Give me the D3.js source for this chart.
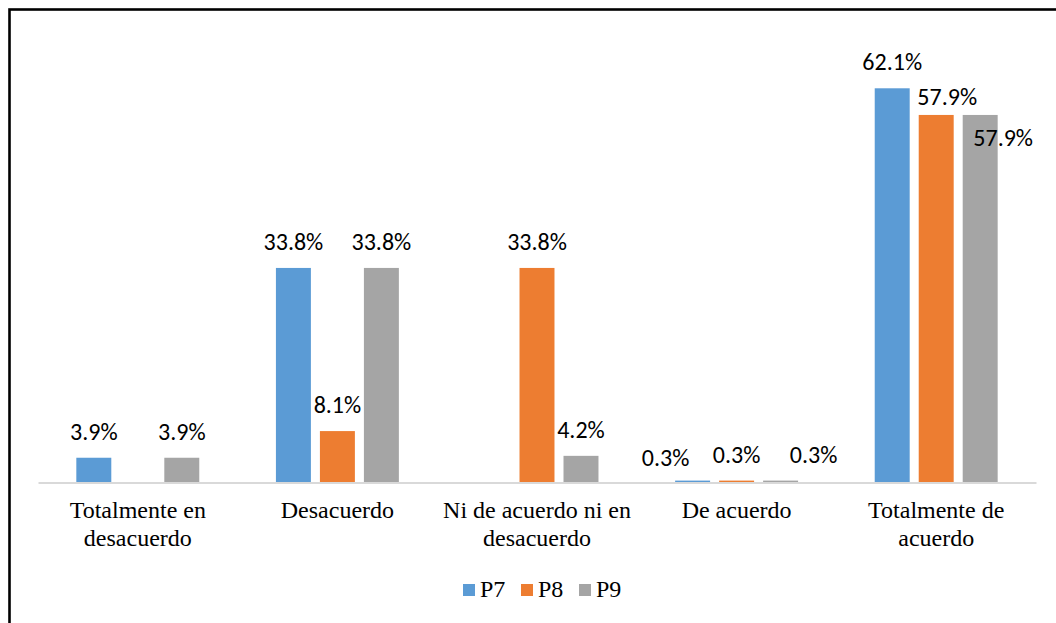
<!DOCTYPE html>
<html>
<head>
<meta charset="utf-8">
<script src="https://cdn.jsdelivr.net/npm/d3@7"></script>
<style>
  body { margin: 0; background: #fff; }
  svg { display: block; }
</style>
</head>
<body>
<div id="grafico"></div>
<script>
// Datos del gráfico
const categorias = ["Totalmente en desacuerdo", "Desacuerdo", "Ni de acuerdo ni en desacuerdo", "De acuerdo", "Totalmente de acuerdo"];
const lineasCategorias = [["Totalmente en", "desacuerdo"], ["Desacuerdo"], ["Ni de acuerdo ni en", "desacuerdo"], ["De acuerdo"], ["Totalmente de", "acuerdo"]];
const series = ["P7", "P8", "P9"];
const valoresP7 = [3.9, 33.8, 0, 0.3, 62.1];
const valoresP8 = [0, 8.1, 33.8, 0.3, 57.9];
const valoresP9 = [3.9, 33.8, 4.2, 0.3, 57.9];
const colores = ["#5B9BD5", "#ED7D31", "#A5A5A5"];

// Ajustes manuales de algunas etiquetas (como en el original)
const ajustesEtiquetas = {
    "3-0": {dx: -27, dy: 3}, "3-2": {dx: 33, dy: 0},
    "4-1": {dx: 11, dy: 8}, "4-2": {dx: 23, dy: 49}
};

const fuenteSerif = "Liberation Serif, Times New Roman, serif";
const fuenteEtiquetas = "Carlito, Calibri, Lato, sans-serif";

const ancho = 1056, alto = 623;
const margen = {izq: 38, der: 1036, base: 482.5};

const svg = d3.select("#grafico").append("svg")
    .attr("width", ancho)
    .attr("height", alto);

// Marco
svg.append("rect")
    .attr("x", 9.5).attr("y", 9.5)
    .attr("width", ancho + 20).attr("height", alto + 20)
    .attr("fill", "none")
    .attr("stroke", "#000")
    .attr("stroke-width", 2.6);

const valores = [valoresP7, valoresP8, valoresP9];
const datos = categorias.map((c, i) => ({
    categoria: c,
    barras: series.map((s, j) => ({serie: s, j, i, valor: valores[j][i]}))
}));

const x0 = d3.scaleBand()
    .domain(categorias)
    .range([margen.izq, margen.der])
    .paddingInner(0.384)
    .paddingOuter(0.192);

const x1 = d3.scaleBand()
    .domain(series)
    .range([0, x0.bandwidth()])
    .paddingInner(0.205);

const y = d3.scaleLinear()
    .domain([0, 70])
    .range([margen.base, margen.base - 70 * 6.348]);

// Barras
const grupos = svg.append("g")
    .selectAll("g")
    .data(datos)
    .join("g")
    .attr("transform", d => `translate(${x0(d.categoria)},0)`);

grupos.selectAll("rect")
    .data(d => d.barras.filter(b => b.valor > 0))
    .join("rect")
    .attr("x", d => x1(d.serie))
    .attr("y", d => y(d.valor))
    .attr("width", x1.bandwidth())
    .attr("height", d => y(0) - y(d.valor))
    .attr("fill", d => colores[d.j]);

// Eje X
const eje = svg.append("g")
    .attr("transform", `translate(0,${margen.base})`)
    .call(d3.axisBottom(x0).tickSize(0).tickSizeOuter(0));

eje.attr("font-family", null).attr("font-size", null);

eje.select(".domain")
    .attr("stroke", "#d9d9d9")
    .attr("stroke-width", 2);

eje.selectAll(".tick text")
    .style("font-family", fuenteSerif)
    .style("font-size", "24px")
    .attr("fill", "#000")
    .attr("y", 0)
    .attr("dy", null)
    .text(null)
    .each(function(d) {
        const lineas = lineasCategorias[categorias.indexOf(d)];
        d3.select(this).selectAll("tspan")
            .data(lineas)
            .join("tspan")
            .attr("x", 0)
            .attr("y", (l, k) => 35.5 + k * 27.5)
            .text(l => l);
    });

// Etiquetas de datos
grupos.selectAll("text")
    .data(d => d.barras.filter(b => b.valor > 0))
    .join("text")
    .attr("x", d => x1(d.serie) + x1.bandwidth() / 2 + (ajustesEtiquetas[`${d.i}-${d.j}`]?.dx || 0))
    .attr("y", d => y(d.valor) - 18 + (ajustesEtiquetas[`${d.i}-${d.j}`]?.dy || 0))
    .attr("text-anchor", "middle")
    .style("font-family", fuenteEtiquetas)
    .style("font-size", "24px")
    .attr("fill", "#000")
    .text(d => d.valor.toFixed(1) + "%");

// Leyenda
const paso = 58;
const leyenda = svg.append("g")
    .attr("transform", "translate(463,584)");

const items = leyenda.selectAll("g")
    .data(series)
    .join("g")
    .attr("transform", (d, i) => `translate(${i * paso},0)`);

items.append("rect")
    .attr("width", 12)
    .attr("height", 12)
    .attr("fill", (d, i) => colores[i]);

items.append("text")
    .attr("x", 17)
    .attr("y", 13)
    .style("font-family", fuenteSerif)
    .style("font-size", "24px")
    .attr("fill", "#000")
    .text(d => d);
</script>
</body>
</html>
